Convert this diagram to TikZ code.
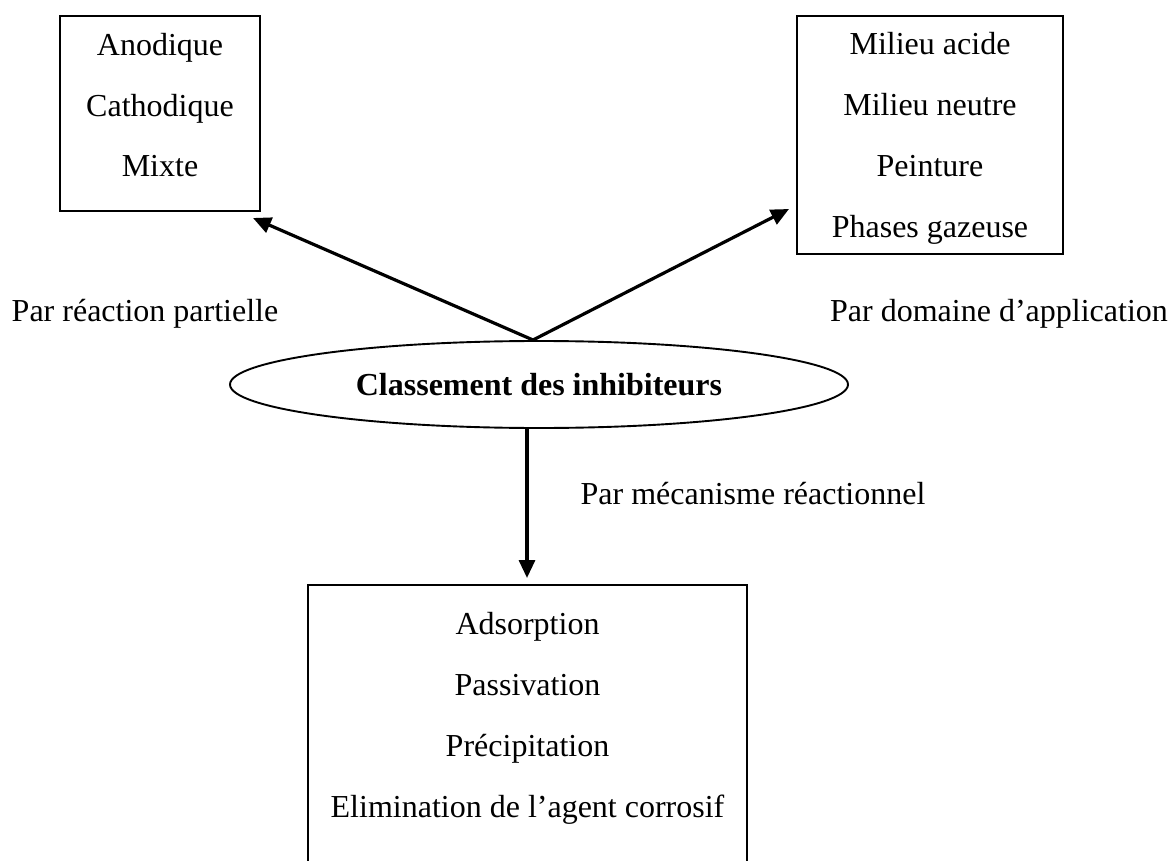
\documentclass[tikz,border=0pt]{standalone}
\usepackage{fontspec}
\setmainfont{Liberation Serif}
\usetikzlibrary{shapes.geometric,arrows.meta}
\tikzset{
  boxst/.style={draw, line width=2pt, inner sep=0pt},
  txt/.style={font=\fontsize{32}{38}\selectfont, anchor=base, inner sep=0pt},
  ell/.style={draw, ellipse, line width=1.9pt, inner sep=0pt, font=\fontsize{32}{38}\selectfont\bfseries},
  arr/.style={line width=3.2pt, -{Triangle[length=18pt,width=16pt]}}
}
\begin{document}
\begin{tikzpicture}[x=1pt,y=-1pt]
\clip (0,0) rectangle (1173,861);
\fill[white] (0,0) rectangle (1173,861);
% boxes
\node[boxst, minimum width=200pt, minimum height=195pt] (L) at (160,113.5) {};
\node[boxst, minimum width=266pt, minimum height=238pt] (R) at (930,135) {};
\node[boxst, minimum width=439pt, minimum height=340pt] (B) at (527.5,755) {};
% box texts
\node[txt] (l1) at (160,56) {Anodique};
\node[txt] (l2) at (160,117) {Cathodique};
\node[txt] (l3) at (160,177) {Mixte};
\node[txt] (r1) at (930,55) {Milieu acide};
\node[txt] (r2) at (930,116) {Milieu neutre};
\node[txt] (r3) at (930,177) {Peinture};
\node[txt] (r4) at (930,238) {Phases gazeuse};
\node[txt] (b1) at (527.5,634) {Adsorption};
\node[txt] (b2) at (527.5,695) {Passivation};
\node[txt] (b3) at (527.5,756) {Précipitation};
\node[txt] (b4) at (527.5,817) {Elimination de l’agent corrosif};
% ellipse
\node[ell, minimum width=618pt, minimum height=87pt] (E) at (539,384.5) {Classement des inhibiteurs};
% labels
\node[txt] (pl) at (145,321) {Par réaction partielle};
\node[txt] (pr) at (999,321) {Par domaine d’application};
\node[txt] (pm) at (753,504) {Par mécanisme réactionnel};
% connectors
\coordinate (apex) at (533,340);
\coordinate (tipL) at (253,218);
\coordinate (tipR) at (789,209);
\coordinate (vs) at (527,429);
\coordinate (tipB) at (527,578);
\draw[arr] (apex) -- (tipL);
\draw[arr] (apex) -- (tipR);
\draw[arr] (vs) -- (tipB);
\end{tikzpicture}
\end{document}
